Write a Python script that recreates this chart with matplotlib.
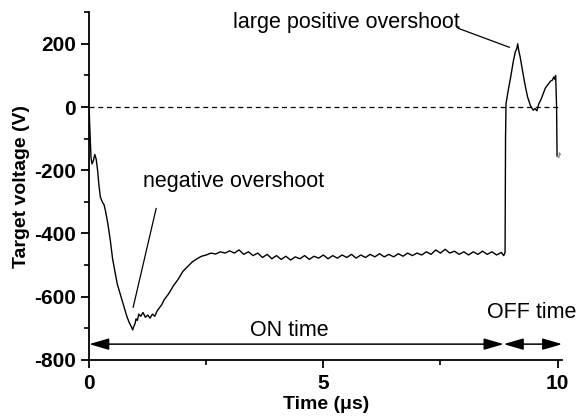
import matplotlib
matplotlib.use("Agg")
import matplotlib.pyplot as plt
from matplotlib.patches import FancyArrowPatch
from matplotlib.ticker import MultipleLocator

plt.rcParams['font.family'] = ['Liberation Sans', 'DejaVu Sans']

# target voltage trace (time in us, voltage in V)
time_us = [0, 0.02, 0.04, 0.06, 0.09, 0.12, 0.15, 0.18, 0.21, 0.24, 0.28, 0.32, 0.35,
           0.4, 0.45, 0.5, 0.55, 0.6, 0.65, 0.7, 0.75, 0.8, 0.85, 0.9, 0.93, 0.95,
           0.98, 1.0, 1.03, 1.06, 1.1, 1.15, 1.2, 1.25, 1.3, 1.35, 1.4, 1.45, 1.5, 1.55,
           1.6, 1.7, 1.8, 1.9, 2.0, 2.1, 2.2, 2.3, 2.4, 2.5, 2.6, 2.7, 2.8, 2.9,
           3.0, 3.1, 3.2, 3.3, 3.4, 3.5, 3.6, 3.7, 3.8, 3.9,
           4.0, 4.1, 4.2, 4.3, 4.4, 4.5, 4.6, 4.7, 4.8, 4.9,
           5.0, 5.1, 5.2, 5.3, 5.4, 5.5, 5.6, 5.7, 5.8, 5.9,
           6.0, 6.1, 6.2, 6.3, 6.4, 6.5, 6.6, 6.7, 6.8, 6.9,
           7.0, 7.1, 7.2, 7.3, 7.4, 7.5, 7.6, 7.7, 7.8, 7.9,
           8.0, 8.1, 8.2, 8.3, 8.4, 8.5, 8.6, 8.7, 8.8, 8.85,
           8.88, 8.89, 8.9, 8.95, 9.0, 9.06, 9.1, 9.13, 9.15, 9.17, 9.2, 9.25, 9.3, 9.36,
           9.42, 9.48, 9.52, 9.56, 9.6, 9.65, 9.7, 9.74, 9.8, 9.85, 9.89, 9.92, 9.94,
           9.96, 9.98, 9.99]
voltage = [-10, -90, -160, -180, -170, -150, -165, -200, -250, -285, -300, -310, -330,
           -370, -420, -480, -520, -560, -585, -610, -635, -660, -680, -695, -705, -695,
           -685, -670, -675, -655, -662, -650, -665, -658, -668, -655, -662, -645, -635, -625,
           -610, -590, -565, -545, -520, -505, -490, -480, -472, -468, -462, -465, -458, -462,
           -455, -462, -452, -466, -458, -470, -462, -476, -466, -480,
           -470, -482, -472, -484, -474, -480, -470, -482, -472, -478,
           -468, -480, -470, -478, -468, -476, -466, -478, -468, -476,
           -466, -474, -464, -474, -466, -474, -464, -472, -462, -470,
           -462, -468, -458, -466, -452, -462, -450, -462, -456, -466,
           -458, -468, -458, -466, -456, -466, -458, -468, -460, -470,
           -460, -100, 10, 55, 95, 148, 175, 185, 200, 180, 160, 117, 75, 32,
           5, -10, -5, -12, 10, 25, 45, 60, 72, 82, 85, 95, 88,
           100, 0, -155]
tail_time = [9.99, 10.03, 10.04, 10.06]
tail_voltage = [-155, -160, -145, -150]

on_start, on_end, off_end = 0, 8.85, 10.1
arrow_level = -750

fig = plt.figure(figsize=(5.79, 4.2), dpi=100)
ax = fig.add_axes([0.154, 0.143, 0.817, 0.828])

ax.plot(time_us, voltage, color='black', lw=1.0)
ax.plot(tail_time, tail_voltage, color='#888888', lw=0.9)
ax.axhline(0, color='black', lw=0.9, ls=(0, (4, 3)))

ax.set_xlim(0, 10.1)
ax.set_ylim(-800, 300)
ax.xaxis.set_minor_locator(MultipleLocator(2.5))
ax.yaxis.set_minor_locator(MultipleLocator(100))
ax.spines['top'].set_visible(False)
ax.spines['right'].set_visible(False)
for s in ['left', 'bottom']:
    ax.spines[s].set_linewidth(1.3)
ax.tick_params(which='major', direction='out', length=6, width=1.3, labelsize=15)
ax.tick_params(axis='x', which='major', pad=4)
ax.tick_params(which='minor', direction='out', length=3.5, width=1.2)
ax.set_yticks([200, 0, -200, -400, -600, -800])
ax.set_yticklabels(['200', '0', '-200', '-400', '-600', '-800'], fontweight='bold')
ax.set_xticks([0, 5, 10])
ax.set_xticklabels(['0', '5', '10'], fontweight='bold')
ax.set_xlabel('Time (\u03bcs)', fontsize=14, fontweight='bold', labelpad=2)
ax.set_ylabel('Target voltage (V)', fontsize=14, fontweight='bold', labelpad=3)

# ON / OFF time arrows
for x0, x1 in [(on_start, on_end), (on_end, off_end)]:
    arr = FancyArrowPatch((x0, arrow_level), (x1, arrow_level),
                          arrowstyle='<|-|>,head_length=12,head_width=3.5',
                          mutation_scale=1, color='black', lw=1.1,
                          shrinkA=0, shrinkB=0, clip_on=False)
    ax.add_patch(arr)
ax.text(4.27, -708, 'ON time', fontsize=15.5, ha='center', va='center')
ax.text(8.5, -650, 'OFF time', fontsize=15.5, ha='left', va='center', clip_on=False)

# annotations
ax.text(1.15, -236, 'negative overshoot', fontsize=15.5, ha='left', va='center')
ax.plot([0.94, 1.43], [-633, -321], color='black', lw=0.9)
ax.text(3.08, 268, 'large positive overshoot', fontsize=15.5, ha='left', va='center')
ax.plot([7.88, 8.97], [249, 189], color='black', lw=0.9, clip_on=False)

fig.savefig('out.png', dpi=100)
